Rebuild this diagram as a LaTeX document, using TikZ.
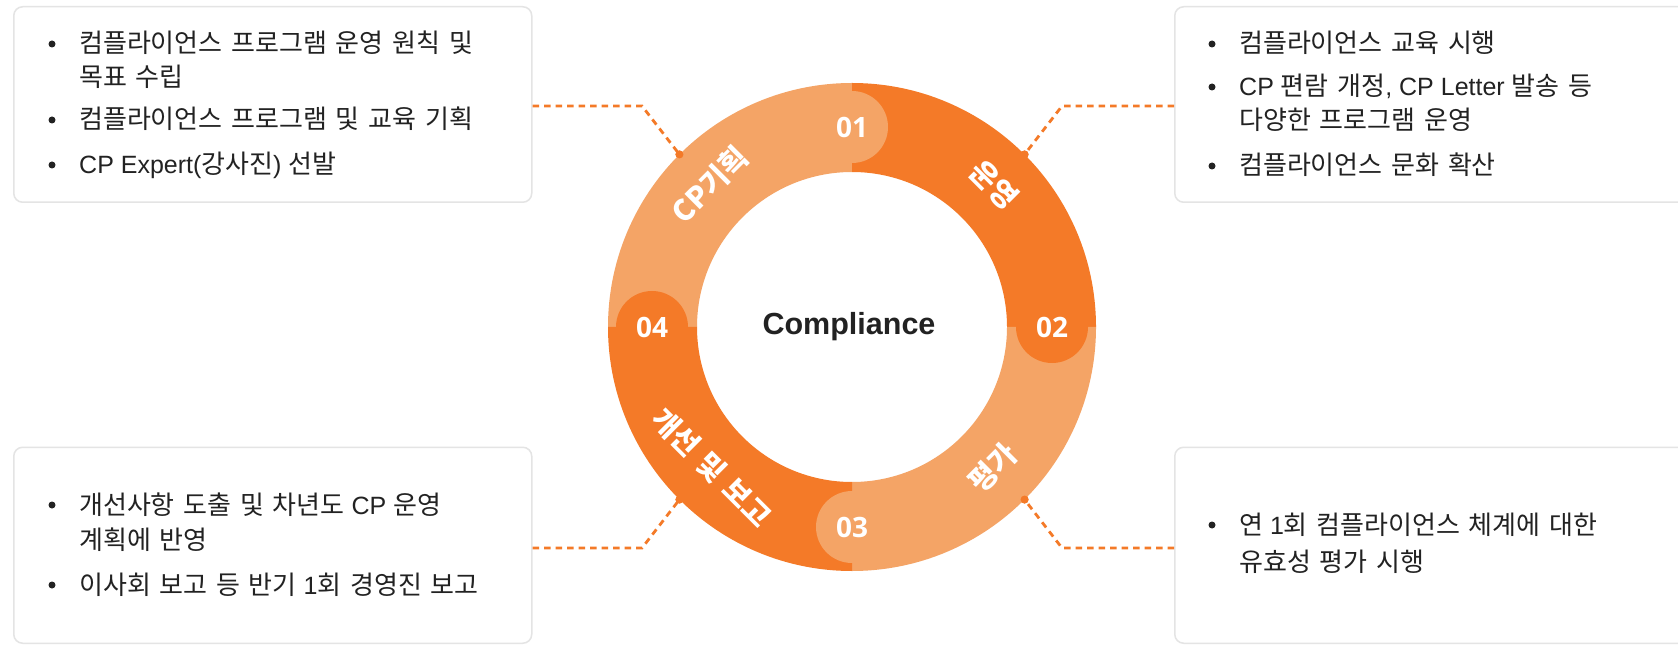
\documentclass[tikz,border=0pt]{standalone}
\usepackage{fontspec}
\setmainfont{Liberation Sans}
\newfontfamily\kr{Noto Sans CJK KR}[Scale=1.04,WordSpace=1.5]
\newfontfamily\numfont{Open Sans}
\definecolor{darkor}{HTML}{F47A28}
\definecolor{lightor}{HTML}{F4A466}
\definecolor{txt}{HTML}{222222}
\definecolor{boxline}{HTML}{E4E4E4}
\begin{document}
\begin{tikzpicture}[x=1pt,y=1pt,
  infobox/.style={draw=boxline, line width=1.5pt, fill=white, rounded corners=9pt, anchor=south west, inner sep=0pt},
  bulletdot/.style={circle, fill=txt, inner sep=0pt, minimum size=7pt},
  itemtext/.style={anchor=base west, inner sep=0pt, text=txt, font=\fontsize{25}{30}\selectfont},
  numc/.style={circle, inner sep=0pt, minimum size=72pt, text=white, font=\numfont\bfseries\fontsize{28}{28}\selectfont},
  seglabel/.style={text=white, inner sep=0pt, font=\kr\bfseries\fontsize{28}{28}\selectfont},
  connector/.style={draw=darkor, line width=2.8pt, dash pattern=on 6.5pt off 5pt},
  endpoint/.style={circle, fill=darkor, inner sep=0pt, minimum size=8pt},
]
\useasboundingbox (0,0) rectangle (1678,646);
\fill[white] (0,0) rectangle (1678,646);

% boxes
\node[infobox, minimum width=518pt, minimum height=195.5pt] (tlbox) at (13,443) {};
\node[infobox, minimum width=530pt, minimum height=195.5pt] (trbox) at (1174,443) {};
\node[infobox, minimum width=518pt, minimum height=196pt] (blbox) at (13,2) {};
\node[infobox, minimum width=530pt, minimum height=196pt] (brbox) at (1174,2) {};

\coordinate (C) at (852,319);
\begin{scope}[shift={(C)}]
  \node[endpoint] (d1) at (135:244) {};
  \node[endpoint] (d2) at (45:244) {};
  \node[endpoint] (d3) at (-45:244) {};
  \node[endpoint] (d4) at (225:244) {};
\end{scope}
\coordinate (k1) at (642,540);
\coordinate (k2) at (1062,540);
\coordinate (k3) at (1062,98);
\coordinate (k4) at (642,98);
\draw[connector] (tlbox.east |- k1) -- (k1) -- (d1.center);
\draw[connector] (trbox.west |- k2) -- (k2) -- (d2.center);
\draw[connector] (brbox.west |- k3) -- (k3) -- (d3.center);
\draw[connector] (blbox.east |- k4) -- (k4) -- (d4.center);

\begin{scope}[shift={(C)}]
  \fill[lightor] (90:244) arc[start angle=90, end angle=180, radius=244] -- (180:155) arc[start angle=180, end angle=90, radius=155] -- cycle;
  \fill[darkor] (0:244) arc[start angle=0, end angle=90, radius=244] -- (90:155) arc[start angle=90, end angle=0, radius=155] -- cycle;
  \fill[lightor] (270:244) arc[start angle=270, end angle=360, radius=244] -- (0:155) arc[start angle=360, end angle=270, radius=155] -- cycle;
  \fill[darkor] (180:244) arc[start angle=180, end angle=270, radius=244] -- (270:155) arc[start angle=270, end angle=180, radius=155] -- cycle;
  \node[numc, fill=lightor] (n1) at (90:200) {01};
  \node[numc, fill=darkor] (n2) at (0:200) {02};
  \node[numc, fill=lightor] (n3) at (270:200) {03};
  \node[numc, fill=darkor] (n4) at (180:200) {04};
  \node[seglabel, rotate=45] (l1) at (135:201) {CP기획};
  \node[seglabel, rotate=-45] (l2) at (45:201) {운영};
  \node[seglabel, rotate=45] (l3) at (-45:199) {평가};
  \node[seglabel, rotate=-45] (l4) at (225:199) {개선 및 보고};
  \node[endpoint] at (d1.center) {};
  \node[endpoint] at (d2.center) {};
  \node[endpoint] at (d3.center) {};
  \node[endpoint] at (d4.center) {};
\end{scope}
\node[anchor=base, text=txt, inner sep=0pt, font=\bfseries\fontsize{30.5}{31}\selectfont] (title) at (849,311) {Compliance};

% top-left texts
\node[bulletdot] (tlb1) at (52,602) {};
\node[itemtext] (tlt1) at (79,593) {\kr 컴플라이언스 프로그램 운영 원칙 및};
\node[itemtext] (tlt1b) at (79,559) {\kr 목표 수립};
\node[bulletdot] (tlb2) at (52,526) {};
\node[itemtext] (tlt2) at (79,517) {\kr 컴플라이언스 프로그램 및 교육 기획};
\node[bulletdot] (tlb3) at (52,481) {};
\node[itemtext] (tlt3) at (79,472) {CP Expert({\kr 강사진}) {\kr 선발}};

% top-right texts
\node[bulletdot] (trb1) at (1212,602) {};
\node[itemtext] (trt1) at (1239,593) {\kr 컴플라이언스 교육 시행};
\node[bulletdot] (trb2) at (1212,559) {};
\node[itemtext] (trt2) at (1239,550) {CP {\kr 편람 개정}, CP Letter {\kr 발송 등}};
\node[itemtext] (trt2b) at (1239,516) {\kr 다양한 프로그램 운영};
\node[bulletdot] (trb3) at (1212,480) {};
\node[itemtext] (trt3) at (1239,471) {\kr 컴플라이언스 문화 확산};

% bottom-left texts
\node[bulletdot] (blb1) at (52,141) {};
\node[itemtext] (blt1) at (79,132) {{\kr 개선사항 도출 및 차년도} CP {\kr 운영}};
\node[itemtext] (blt1b) at (79,97) {\kr 계획에 반영};
\node[bulletdot] (blb2) at (52,61) {};
\node[itemtext] (blt2) at (79,52) {{\kr 이사회 보고 등 반기} 1{\kr 회 경영진 보고}};

% bottom-right texts
\node[bulletdot] (brb1) at (1212,121) {};
\node[itemtext] (brt1) at (1239,112) {{\kr 연} 1{\kr 회 컴플라이언스 체계에 대한}};
\node[itemtext] (brt1b) at (1239,75) {\kr 유효성 평가 시행};
\end{tikzpicture}
\end{document}
